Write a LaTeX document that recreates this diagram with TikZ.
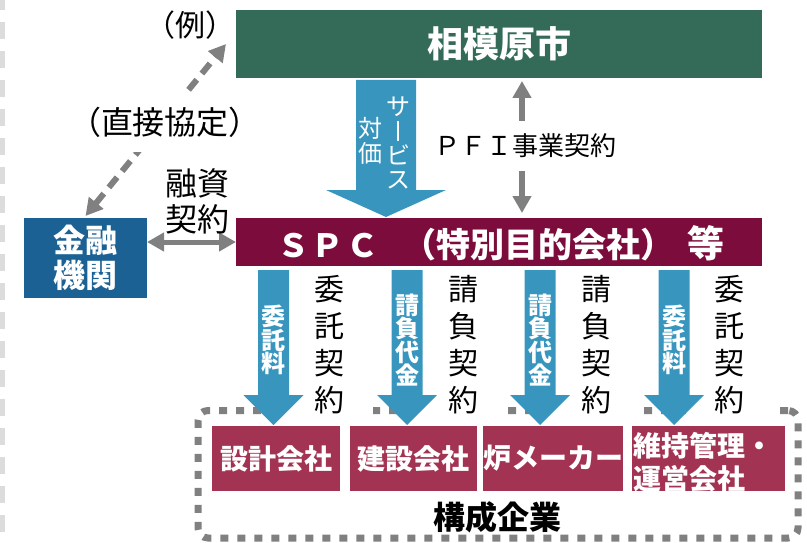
\documentclass[tikz,border=0pt]{standalone}
\usepackage{fontspec}
\setmainfont{Noto Sans CJK JP}
\usetikzlibrary{arrows.meta,calc}
\definecolor{cityg}{RGB}{51,107,88}
\definecolor{spcred}{RGB}{123,12,59}
\definecolor{bankb}{RGB}{28,97,147}
\definecolor{firmr}{RGB}{163,51,82}
\definecolor{arrowb}{RGB}{56,150,190}
\definecolor{linegray}{RGB}{128,128,128}
\definecolor{edgegray}{RGB}{220,220,220}
\newcommand\jfs[2]{\fontsize{#1}{#2}\selectfont}
\newcommand\vbar{\makebox[1em]{\rule[-0.06em]{0.07em}{0.86em}}}
\begin{document}
\begin{tikzpicture}[x=1pt,y=-1pt,
  every node/.style={inner sep=0pt,outer sep=0pt},
  colbox/.style n args={3}{fill=#1,minimum width=#2,minimum height=#3,text=white},
  fat/.style n args={3}{to path={let \p1=(\tikztostart),\p2=(\tikztotarget) in
     (\x1-#1,\y1) -- (\x1+#1,\y1) -- (\x1+#1,\y2+#3) -- (\x1+#2,\y2+#3) -- (\x1,\y2)
     -- (\x1-#2,\y2+#3) -- (\x1-#1,\y2+#3) -- cycle}},
  wlab/.style={text=white,font=\bfseries\jfs{24}{23.5},align=center},
  slab/.style={text=white,font=\jfs{24}{24.5},align=center},
  blab/.style={fill=white,text=black,font=\jfs{30}{37},align=center,minimum width=88,minimum height=146},
  garrow/.style={draw=linegray,line width=#1,
     {Triangle[length=17pt,width=18pt]}-{Triangle[length=17pt,width=18pt]}},
  dashline/.style={dash pattern=on 13pt off 8pt}]
\useasboundingbox (0,0) rectangle (807,543);
% left edge dashed line
\coordinate (et) at (2.5,0);
\coordinate (eb) at (2.5,543);
\draw[edgegray,line width=5pt,dash pattern=on 17pt off 12pt,dash phase=7pt] (et) -- (eb);

% main boxes
\node[colbox={cityg}{526}{68},font=\bfseries\jfs{36}{36}] (city) at (499,44) {相模原市};
\node[colbox={spcred}{526}{48}] (spc) at (499,242) {};
\node[anchor=west,text=white,font=\bfseries\jfs{34}{34}] (spct) at (275.5,243)
  {\makebox[35pt]{\jfs{32}{32}Ｓ}\makebox[35pt]{\jfs{32}{32}Ｐ}\makebox[35pt]{\jfs{32}{32}Ｃ}\hspace{22pt}（特別目的会社）\hspace{12pt}\makebox[40pt]{\jfs{37}{37}等}};
\node[colbox={bankb}{123}{80},font=\bfseries\jfs{32}{35},align=center] (bank) at (85.5,258) {金融\\機関};

% group of member firms
\node[draw=linegray,line width=7pt,dash pattern=on 8pt off 9pt,rounded corners=10pt,
  minimum width=600,minimum height=127.5] (grp) at (498,474.25) {};
\node[font=\bfseries\jfs{32}{32}] (grpl) at (497,517) {構成企業};

\node[colbox={firmr}{128}{65},font=\bfseries\jfs{28}{28}] (f1) at (276,458.5) {設計会社};
\node[colbox={firmr}{127}{65},font=\bfseries\jfs{28}{28}] (f2) at (413.5,458.5) {建設会社};
\node[colbox={firmr}{138}{65},font=\bfseries\jfs{28}{28}] (f3) at (553,458.5) {炉メーカー};
\node[colbox={firmr}{153}{65}] (f4) at (708.5,458.5) {};
\begin{scope}
  \clip (f4.north west) rectangle (f4.south east);
  \node[anchor=west,text=white,font=\bfseries\jfs{28}{33},align=left] (f4t) at (633,462) {維持管理・\\運営会社};
\end{scope}

% contract labels (white backed)
\node[blab] (l1) at (329,345) {委\\託\\契\\約};
\node[blab] (l2) at (463,345) {請\\負\\契\\約};
\node[blab] (l3) at (596,345) {請\\負\\契\\約};
\node[blab] (l4) at (729.5,345) {委\\託\\契\\約};

% payment arrows
\coordinate (sx) at (386,0);
\fill[arrowb] ([yshift=-2pt]city.south -| sx) to[fat={30}{60}{27}] ([yshift=1pt]spc.north -| sx);
\node[slab] (svc1) at (398,143) {サ\\\vbar\\ビ\\ス};
\node[slab] (svc2) at (370,141) {対\\価};

\coordinate (a1) at (273.5,0);
\coordinate (a2) at (407,0);
\coordinate (a3) at (540,0);
\coordinate (a4) at (674,0);
\fill[arrowb] ([yshift=-4pt]spc.south -| a1) to[fat={15.5}{30}{30}] ([yshift=1pt]f1.north -| a1);
\fill[arrowb] ([yshift=-4pt]spc.south -| a2) to[fat={15.5}{30}{30}] ([yshift=1pt]f2.north -| a2);
\fill[arrowb] ([yshift=-4pt]spc.south -| a3) to[fat={15.5}{30}{30}] ([yshift=1pt]f3.north -| a3);
\fill[arrowb] ([yshift=-4pt]spc.south -| a4) to[fat={15.5}{30}{30}] ([yshift=1pt]f4.north -| a4);
\node[wlab] (p1) at (273.5,340) {委\\託\\料};
\node[wlab] (p2) at (407,340) {請\\負\\代\\金};
\node[wlab] (p3) at (540,340) {請\\負\\代\\金};
\node[wlab] (p4) at (674,340) {委\\託\\料};

% PFI contract
\coordinate (px) at (522,0);
\draw[garrow=6pt] ([yshift=-3pt]city.south -| px) -- ([yshift=5pt]spc.north -| px);
\node[fill=white,minimum height=50,font=\jfs{26}{26}] (pfi) at (525.5,146) {ＰＦＩ事業契約};

% finance contract
\draw[garrow=5pt] (spc.west -| bank.east) -- (spc.west);
\node[font=\jfs{32}{36},align=center] (yushi) at (197,201) {融資\\契約};

% direct agreement
\draw[garrow=6pt,dashline] ([yshift=2pt]bank.north) -- ([xshift=-10pt]city.west);
\node[fill=white,minimum height=60,font=\jfs{32}{32}] (direct) at (165,122) {（直接協定）};
\node[font=\jfs{30}{30}] (rei) at (190,25) {（例）};
\end{tikzpicture}
\end{document}
